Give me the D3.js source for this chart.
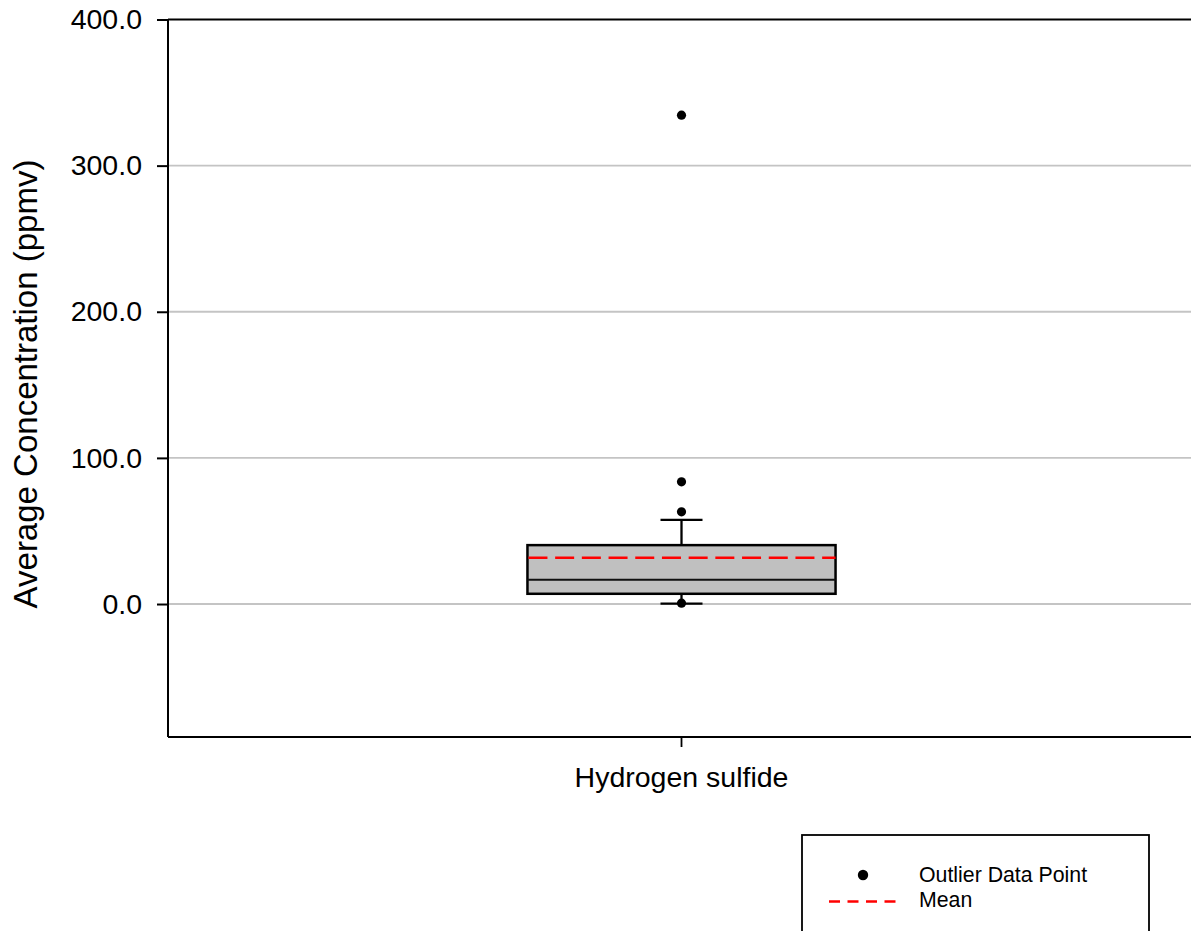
<!DOCTYPE html>
<html>
<head>
<meta charset="utf-8">
<script src="https://cdn.jsdelivr.net/npm/d3@7"></script>
<style>
  html, body { margin: 0; padding: 0; background: #fff; }
  svg { display: block; font-family: "Liberation Sans", Arial, sans-serif; }
</style>
</head>
<body>
<svg id="chart" width="1191" height="931"></svg>
<script>
// Box plot summary for each compound (ppmv)
const categories = ["Hydrogen sulfide"];
const lowerWhisker = [0.3];
const q1Values = [7.0];
const medianValues = [16.6];
const q3Values = [40.3];
const upperWhisker = [57.6];
const meanValues = [31.6];
const outlierValues = [[334.5, 83.6, 63.1, 0.6]];
const yTicks = [0, 100, 200, 300, 400];

const svg = d3.select("#chart");
const plotLeft = 168, plotRight = 1195, plotTop = 19.5, plotBottom = 737;

const x = d3.scaleBand().domain(categories).range([plotLeft, plotRight]);
const y = d3.scaleLinear().domain([-91, 400]).range([plotBottom, plotTop]);

const boxFrac = 0.3;
const capHalf = 21;

// Horizontal grid lines
svg.append("g")
  .selectAll("line")
  .data(yTicks.filter(d => d < 400))
  .join("line")
  .attr("x1", plotLeft).attr("x2", plotRight)
  .attr("y1", d => y(d)).attr("y2", d => y(d))
  .attr("stroke", "#c4c4c4").attr("stroke-width", 1.8);

// Y axis
const yAxis = svg.append("g")
  .attr("transform", `translate(${plotLeft},0)`)
  .call(d3.axisLeft(y).tickValues(yTicks).tickFormat(d3.format(".1f")).tickSize(11).tickPadding(15));
yAxis.select(".domain").attr("stroke", "#000").attr("stroke-width", 2)
  .attr("d", `M0,${plotTop}V${plotBottom}`);
yAxis.selectAll(".tick line").attr("stroke", "#000").attr("stroke-width", 2);
yAxis.selectAll(".tick text")
  .attr("fill", "#000")
  .style("font-size", "28.5px")
  .style("font-family", "'Liberation Sans', Arial, sans-serif");

// Top frame line
svg.append("line")
  .attr("x1", plotLeft).attr("x2", plotRight)
  .attr("y1", y(400)).attr("y2", y(400))
  .attr("stroke", "#000").attr("stroke-width", 2);

// X axis
const xAxis = svg.append("g")
  .attr("transform", `translate(0,${plotBottom})`)
  .call(d3.axisBottom(x).tickSize(10).tickPadding(20));
xAxis.select(".domain").attr("stroke", "#000").attr("stroke-width", 2)
  .attr("d", `M${plotLeft},0H${plotRight}`);
xAxis.selectAll(".tick line").attr("stroke", "#000").attr("stroke-width", 1.8);
xAxis.selectAll(".tick text")
  .attr("fill", "#000")
  .style("font-size", "28.5px")
  .style("font-family", "'Liberation Sans', Arial, sans-serif");

// Y axis title
svg.append("text")
  .attr("transform", `translate(37,384) rotate(-90)`)
  .attr("text-anchor", "middle")
  .style("font-size", "33px")
  .text("Average Concentration (ppmv)");

// Boxes
const boxes = svg.append("g")
  .selectAll("g")
  .data(categories.map((c, i) => ({
    c, lo: lowerWhisker[i], q1: q1Values[i], med: medianValues[i],
    q3: q3Values[i], hi: upperWhisker[i], mean: meanValues[i], out: outlierValues[i]
  })))
  .join("g");

boxes.each(function(d) {
  const g = d3.select(this);
  const cx = x(d.c) + x.bandwidth() / 2;
  const bw = x.bandwidth() * boxFrac;

  // whiskers
  g.append("line").attr("x1", cx).attr("x2", cx)
    .attr("y1", y(d.q3)).attr("y2", y(d.hi))
    .attr("stroke", "#000").attr("stroke-width", 2.3);
  g.append("line").attr("x1", cx).attr("x2", cx)
    .attr("y1", y(d.q1)).attr("y2", y(d.lo))
    .attr("stroke", "#000").attr("stroke-width", 2.3);
  g.append("line").attr("x1", cx - capHalf).attr("x2", cx + capHalf)
    .attr("y1", y(d.hi)).attr("y2", y(d.hi))
    .attr("stroke", "#000").attr("stroke-width", 2.3);
  g.append("line").attr("x1", cx - capHalf).attr("x2", cx + capHalf)
    .attr("y1", y(d.lo)).attr("y2", y(d.lo))
    .attr("stroke", "#000").attr("stroke-width", 2.3);

  // box
  g.append("rect")
    .attr("x", cx - bw / 2).attr("width", bw)
    .attr("y", y(d.q3)).attr("height", y(d.q1) - y(d.q3))
    .attr("fill", "#c0c0c0").attr("stroke", "#000").attr("stroke-width", 2.5);

  // median
  g.append("line").attr("x1", cx - bw / 2).attr("x2", cx + bw / 2)
    .attr("y1", y(d.med)).attr("y2", y(d.med))
    .attr("stroke", "#111").attr("stroke-width", 2);

  // mean
  g.append("line").attr("x1", cx - bw / 2 + 1).attr("x2", cx + bw / 2)
    .attr("y1", y(d.mean)).attr("y2", y(d.mean))
    .attr("stroke", "#ff0000").attr("stroke-width", 2.5)
    .attr("stroke-dasharray", "19,7.7");

  // outliers
  g.selectAll("circle.out")
    .data(d.out)
    .join("circle")
    .attr("class", "out")
    .attr("cx", cx).attr("cy", v => y(v)).attr("r", 4.6)
    .attr("fill", "#000");
});

// Legend
const legend = svg.append("g");
legend.append("rect")
  .attr("x", 802).attr("y", 835).attr("width", 347).attr("height", 120)
  .attr("fill", "#fff").attr("stroke", "#000").attr("stroke-width", 1.8);
legend.append("circle").attr("cx", 863).attr("cy", 875).attr("r", 5.2).attr("fill", "#000");
legend.append("text").attr("x", 919).attr("y", 882)
  .style("font-size", "21.3px").text("Outlier Data Point");
legend.append("line").attr("x1", 829).attr("x2", 896).attr("y1", 901.5).attr("y2", 901.5)
  .attr("stroke", "#ff0000").attr("stroke-width", 2.5).attr("stroke-dasharray", "11,7.5");
legend.append("text").attr("x", 919).attr("y", 907)
  .style("font-size", "21.3px").text("Mean");
</script>
</body>
</html>
